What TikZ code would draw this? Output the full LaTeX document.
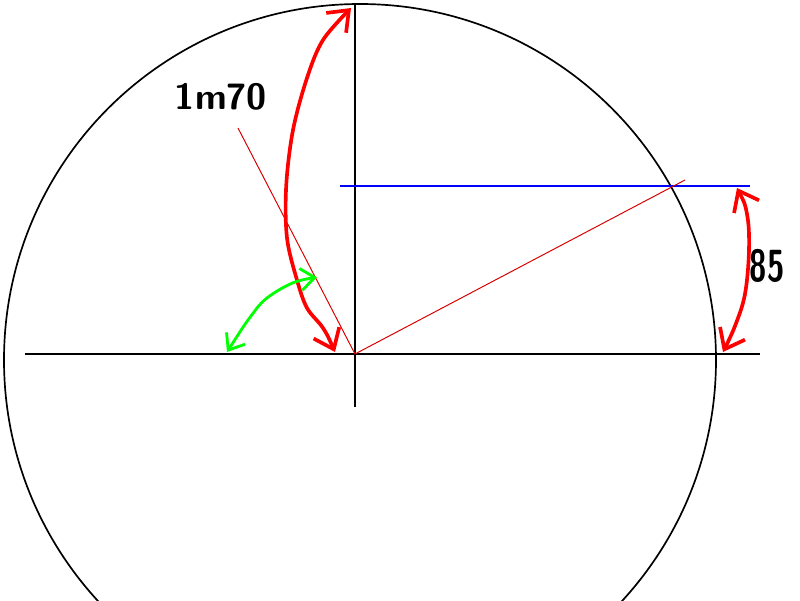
\documentclass[tikz,border=0pt]{standalone}
\usetikzlibrary{arrows.meta}
\tikzset{
  axisline/.style = {black, line width=1.2pt},
  redmark/.style = {red, line width=2.6pt, line cap=round, {Straight Barb[length=4.5mm,width=7mm]}-{Straight Barb[length=4.5mm,width=7mm]}},
  greenmark/.style = {green, line width=2pt, line cap=round, {Straight Barb[length=3.5mm,width=5.5mm]}-{Straight Barb[length=3.5mm,width=5.5mm]}},
  thinred/.style = {red!85!black, line width=0.7pt},
  handtext/.style = {font=\sffamily\bfseries\fontsize{26}{26}\selectfont}
}
\begin{document}
\begin{tikzpicture}
  \useasboundingbox (-8.875,-6.15) rectangle (11.125,8.85);
  %Origin and axis
  \coordinate (O) at (0,0);
  \draw[axisline] (-8.25,0) -- (10.125,0) coordinate (xmax);
  \draw[axisline] (0,-1.325) -- (0,8.725) coordinate (ymax);
  %Circle
  \draw[axisline] (0.125,-0.15) circle (8.9);
  %Level line
  \draw[blue, line width=1.2pt] (-0.375,4.2) -- (9.875,4.2) coordinate (lvl);
  %Thin rays from the origin
  \draw[thinred] (O) -- (8.25,4.35) coordinate (raya);
  \draw[thinred] (O) -- (-2.925,5.65) coordinate (rayb);
  %Hand arrows
  \draw[redmark] plot[smooth, tension=0.55] coordinates {(-0.5,0.05) (-0.8,0.65) (-1.2,1.15) (-1.45,1.85) (-1.7,2.9) (-1.72,4.2) (-1.55,5.6) (-1.2,6.9) (-0.8,7.85) (-0.1,8.65)};
  \draw[redmark] plot[smooth, tension=0.6] coordinates {(9.55,4.15) (9.8,3.5) (9.85,2.6) (9.75,1.5) (9.5,0.7) (9.2,0.05)};
  \draw[greenmark] plot[smooth, tension=0.6] coordinates {(-3.2,0.05) (-2.6,0.95) (-2.2,1.4) (-1.55,1.78) (-0.95,1.92)};
  %Labels
  \node[handtext] (height) at (-3.35,6.42) {1m70};
  \node[handtext, font=\sffamily\bfseries\fontsize{32}{32}\selectfont, xscale=0.7, transform shape] (half) at (10.3,2.2) {85};
\end{tikzpicture}
\end{document}
